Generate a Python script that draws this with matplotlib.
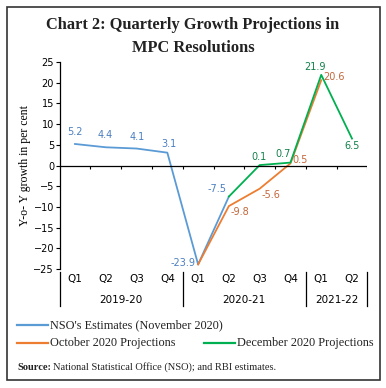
import numpy as np
import matplotlib.pyplot as plt
from matplotlib.lines import Line2D
from matplotlib.patches import Rectangle

quarters = ['Q1', 'Q2', 'Q3', 'Q4', 'Q1', 'Q2', 'Q3', 'Q4', 'Q1', 'Q2']
years = ['2019-20', '2020-21', '2021-22']
year_spans = [(0, 3), (4, 7), (8, 9)]

nan = np.nan
nso = [5.2, 4.4, 4.1, 3.1, -23.9, -7.5, nan, nan, nan, nan]
october = [nan, nan, nan, nan, -23.9, -9.8, -5.6, 0.5, 20.6, nan]
december = [nan, nan, nan, nan, nan, -7.5, 0.1, 0.7, 21.9, 6.5]

line_cols = {'nso': '#5b9bd5', 'oct': '#ed7d31', 'dec': '#00b050'}
text_cols = {'nso': '#4a7fc0', 'oct': '#c4673a', 'dec': '#12804a'}

W, H = 386, 388
fig = plt.figure(figsize=(W / 100, H / 100), dpi=100)


def fx(px):
    return px / W


def fy(py):
    return 1 - py / H


ax = fig.add_axes([fx(59.6), fy(269), fx(367.4) - fx(59.6), fy(62) - fy(269)])
x = np.arange(len(quarters))
ax.plot(x, nso, color=line_cols['nso'], lw=1.3)
ax.plot(x, october, color=line_cols['oct'], lw=1.3)
ax.plot(x, december, color=line_cols['dec'], lw=1.3)

ax.set_xlim(-0.5, 9.5)
ax.set_ylim(-25, 25)
ax.set_yticks(np.arange(-25, 26, 5))
ax.tick_params(axis='y', length=3, width=0.8, labelsize=7, pad=1)
ax.set_xticks([])
for s in ['top', 'right', 'bottom']:
    ax.spines[s].set_visible(False)
ax.spines['left'].set_linewidth(0.9)
ax.axhline(0, color='black', lw=0.9)
ax.vlines(np.arange(0.5, 10, 1), -0.9, 0, color='black', lw=0.8)

# data labels: (series, index, dx px, dy px, ha, va)
labels = [
    ('nso', 0, 0, 7, 'center', 'bottom'),
    ('nso', 1, -1, 7, 'center', 'bottom'),
    ('nso', 2, 1, 7, 'center', 'bottom'),
    ('nso', 3, 2, 4, 'center', 'bottom'),
    ('nso', 4, -3, 1, 'right', 'center'),
    ('nso', 5, -2, 3, 'right', 'bottom'),
    ('oct', 5, 2, -1, 'left', 'top'),
    ('oct', 6, 2, -1, 'left', 'top'),
    ('oct', 7, 2, 3, 'left', 'center'),
    ('oct', 8, 2, 3, 'left', 'center'),
    ('dec', 6, -1, 3, 'center', 'bottom'),
    ('dec', 7, -7, 4, 'center', 'bottom'),
    ('dec', 8, -6, 3, 'center', 'bottom'),
    ('dec', 9, 0, -2, 'center', 'top'),
]
series = {'nso': nso, 'oct': october, 'dec': december}
for key, i, dx, dy, ha, va in labels:
    v = series[key][i]
    ax.annotate(f'{v:.1f}', (i, v), xytext=(dx * 0.72, dy * 0.72),
                textcoords='offset points', ha=ha, va=va,
                fontsize=7, color=text_cols[key])

# category axis below the plot
trans = ax.get_xaxis_transform()
for i, q in enumerate(quarters):
    ax.text(i, -0.022, q, transform=trans, ha='center', va='top', fontsize=7.5)
for (a, b), yr in zip(year_spans, years):
    ax.text((a + b) / 2, -0.125, yr, transform=trans, ha='center', va='top',
            fontsize=7.5)
for bx in [-0.5, 3.5, 7.5, 9.5]:
    ax.plot([bx, bx], [-0.015, -0.18], transform=trans, color='black',
            lw=0.9, clip_on=False)

fig.text(fx(25), fy(166), 'Y-o- Y growth in per cent', rotation=90,
         ha='center', va='center', fontsize=8.5, family='Liberation Serif')

fig.text(fx(193), fy(25), 'Chart 2: Quarterly Growth Projections in',
         ha='center', va='center', fontsize=11.8, fontweight='bold',
         family='Liberation Serif', color='#222222')
fig.text(fx(193), fy(48), 'MPC Resolutions', ha='center', va='center',
         fontsize=11.8, fontweight='bold', family='Liberation Serif',
         color='#222222')

# legend
leg = [
    (17, 325, line_cols['nso'], "NSO's Estimates (November 2020)"),
    (17, 343, line_cols['oct'], 'October 2020 Projections'),
    (204, 343, line_cols['dec'], 'December 2020 Projections'),
]
for lx, ly, c, txt in leg:
    fig.add_artist(Line2D([fx(lx), fx(lx + 31)], [fy(ly), fy(ly)], color=c,
                          lw=1.6, transform=fig.transFigure))
    fig.text(fx(lx + 33), fy(ly), txt, ha='left', va='center', fontsize=8.8,
             family='Liberation Serif', color='#222222')

src = fig.text(fx(17), fy(367), 'Source:', ha='left', va='center',
               fontsize=7.5, fontweight='bold', family='Liberation Serif',
               color='#222222')
fig.canvas.draw()
bb = src.get_window_extent()
fig.text(bb.x1 / W + fx(2), fy(367),
         'National Statistical Office (NSO); and RBI estimates.',
         ha='left', va='center', fontsize=7.5, family='Liberation Serif',
         color='#222222')

fig.add_artist(Rectangle((fx(6.5), fy(380)), fx(373), fy(6.5) - fy(380),
                         fill=False, edgecolor='#333333', lw=1.2,
                         transform=fig.transFigure))

fig.savefig('out.png', dpi=100)
